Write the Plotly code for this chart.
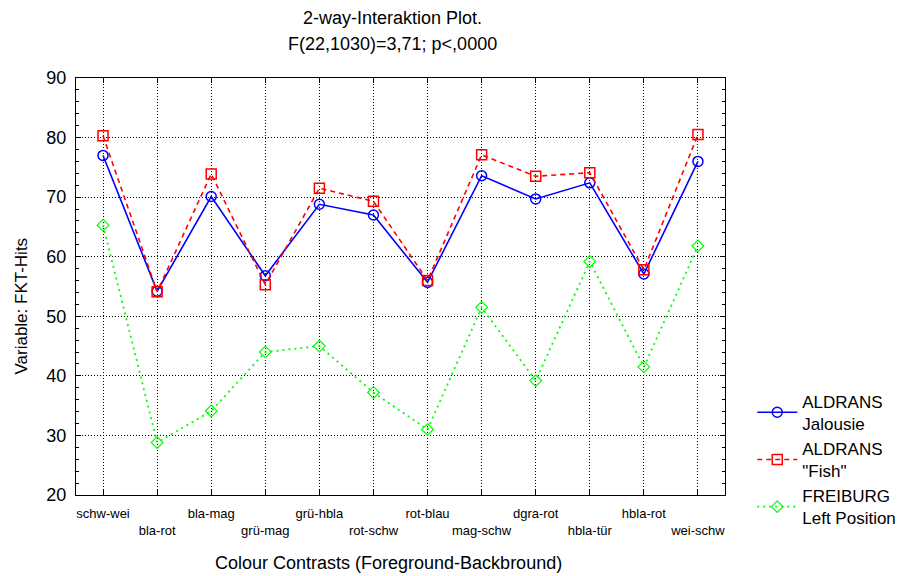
import plotly.graph_objects as go

categories = ["schw-wei", "bla-rot", "bla-mag", "grü-mag", "grü-hbla", "rot-schw",
              "rot-blau", "mag-schw", "dgra-rot", "hbla-tür", "hbla-rot", "wei-schw"]

aldrans_jalousie = [77.0, 54.2, 70.1, 56.8, 68.8, 67.0, 55.7, 73.6, 69.7, 72.4, 57.1, 76.0]
aldrans_fish = [80.3, 54.1, 73.9, 55.3, 71.5, 69.3, 56.0, 77.1, 73.5, 74.1, 57.8, 80.5]
freiburg_left = [65.3, 28.8, 34.1, 44.0, 45.0, 37.2, 31.0, 51.5, 39.2, 59.2, 41.5, 61.8]

y_ticks = [20, 30, 40, 50, 60, 70, 80, 90]

FONT = "Liberation Sans, Arial, sans-serif"

x_idx = list(range(len(categories)))
# alternate labels onto a second line so they don't collide
tick_text = [c if i % 2 == 0 else "<br>" + c for i, c in enumerate(categories)]

fig = go.Figure()

fig.add_trace(go.Scatter(
    x=x_idx, y=aldrans_jalousie, mode="lines+markers",
    name="ALDRANS<br>Jalousie",
    line=dict(color="#0000ff", width=1.6, dash="solid"),
    marker=dict(symbol="circle-open", size=10, color="#0000ff", line=dict(width=1.5)),
))
fig.add_trace(go.Scatter(
    x=x_idx, y=aldrans_fish, mode="lines+markers",
    name='ALDRANS<br>"Fish"',
    line=dict(color="#ff0000", width=1.6, dash="5px,4px"),
    marker=dict(symbol="square-open", size=10, color="#ff0000", line=dict(width=1.5)),
))
fig.add_trace(go.Scatter(
    x=x_idx, y=freiburg_left, mode="lines+markers",
    name="FREIBURG<br>Left Position",
    line=dict(color="#00ff00", width=1.8, dash="2px,4px"),
    marker=dict(symbol="diamond-open", size=9, color="#00ff00", line=dict(width=1.2)),
))

fig.update_layout(
    width=918, height=576,
    margin=dict(l=76, r=193, t=78, b=81, autoexpand=False),
    paper_bgcolor="white", plot_bgcolor="white",
    font=dict(family=FONT, color="black"),
    showlegend=True,
    legend=dict(
        x=1.042, xanchor="left", y=0.267, yanchor="top",
        font=dict(size=17, family=FONT),
        bgcolor="rgba(0,0,0,0)", itemwidth=40,
    ),
    xaxis=dict(
        range=[-0.5, len(categories) - 0.5],
        tickmode="array", tickvals=x_idx, ticktext=tick_text,
        tickfont=dict(size=13), tickangle=0, automargin=False,
        ticklabelstandoff=6,
        showgrid=True, gridcolor="black", griddash="1px,2px", gridwidth=1,
        showline=True, linecolor="black", linewidth=1, mirror="ticks",
        ticks="inside", ticklen=5, tickcolor="black",
        zeroline=False,
    ),
    yaxis=dict(
        range=[20, 90],
        tickmode="array", tickvals=y_ticks,
        tickfont=dict(size=18), automargin=False,
        ticklabelstandoff=5,
        showgrid=True, gridcolor="black", griddash="1px,2px", gridwidth=1,
        showline=True, linecolor="black", linewidth=1, mirror="ticks",
        ticks="inside", ticklen=5, tickcolor="black",
        minor=dict(dtick=2, ticks="inside", ticklen=3, tickcolor="black", showgrid=False),
        zeroline=False,
    ),
    annotations=[
        dict(text="2-way-Interaktion Plot.", xref="paper", yref="paper",
             x=0.488, y=1.144, xanchor="center", yanchor="middle",
             showarrow=False, font=dict(size=18)),
        dict(text="F(22,1030)=3,71; p<,0000", xref="paper", yref="paper",
             x=0.488, y=1.0815, xanchor="center", yanchor="middle",
             showarrow=False, font=dict(size=18)),
        dict(text="Colour Contrasts (Foreground-Backbround)", xref="paper", yref="paper",
             x=0.481, y=-0.163, xanchor="center", yanchor="middle",
             showarrow=False, font=dict(size=18)),
        dict(text="Variable: FKT-Hits", xref="paper", yref="paper",
             x=-0.0847, y=0.452, xanchor="center", yanchor="middle", textangle=-90,
             showarrow=False, font=dict(size=17)),
    ],
)

fig.write_html("out.html")
